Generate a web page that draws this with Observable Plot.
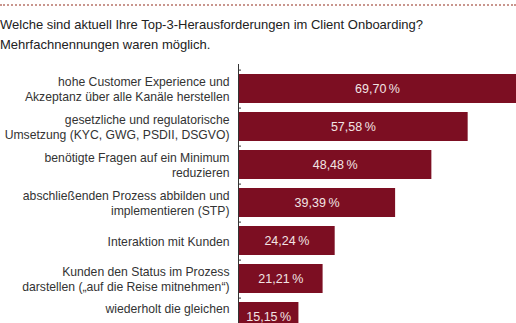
<!DOCTYPE html>
<html>
<head>
<meta charset="utf-8">
<script src="https://cdn.jsdelivr.net/npm/d3@7"></script>
<script src="https://cdn.jsdelivr.net/npm/@observablehq/plot@0.6"></script>
<style>
  html, body { margin: 0; padding: 0; background: #fff; overflow: hidden; }
  body { width: 516px; height: 323px; position: relative; font-family: "Liberation Sans", Arial, sans-serif; }
  #rule { position: absolute; left: 0; top: 4px; width: 516px; border-top: 2px dotted #c9968e; }
  #title { position: absolute; left: 0; top: 15px; font-size: 13px; line-height: 20px; color: #222; white-space: nowrap; }
  #chart { position: absolute; left: 0; top: 56px; }
</style>
</head>
<body>
<div id="rule"></div>
<div id="title">Welche sind aktuell Ihre Top-3-Herausforderungen im Client Onboarding?<br>Mehrfachnennungen waren möglich.</div>
<div id="chart"></div>
<script>
const categories = [
  "hohe Customer Experience und\nAkzeptanz über alle Kanäle herstellen",
  "gesetzliche und regulatorische\nUmsetzung (KYC, GWG, PSDII, DSGVO)",
  "benötigte Fragen auf ein Minimum\nreduzieren",
  "abschließenden Prozess abbilden und\nimplementieren (STP)",
  "Interaktion mit Kunden",
  "Kunden den Status im Prozess\ndarstellen („auf die Reise mitnehmen“)",
  "wiederholt die gleichen"
];
const values = [69.70, 57.58, 48.48, 39.39, 24.24, 21.21, 15.15];

const data = categories.map((c, i) => ({label: c, value: values[i]}));
const fmt = v => v.toFixed(2).replace(".", ",") + "\u2009%";
const step = 38.8;
const lastLabel = categories[categories.length - 1];

const chart = Plot.plot({
  width: 516,
  height: 287,
  marginLeft: 238,
  marginRight: 0,
  marginTop: 6,
  marginBottom: 0,
  style: {fontFamily: "Liberation Sans, Arial, sans-serif", fontSize: "12.2px", background: "transparent", overflow: "visible"},
  x: {domain: [0, 69.7], axis: null},
  y: {domain: categories, padding: 0.24, axis: null},
  marks: [
    Plot.barX(data, {x: "value", y: "label", fill: "#7c0e22"}),
    Plot.ruleX([0], {stroke: "#333", strokeWidth: 1, insetTop: 2}),
    Plot.ruleY(categories, {y: d => d, x1: 0, x2: 0.75, dy: -step / 2 + 0.5, stroke: "#333", strokeWidth: 1}),
    Plot.text(data.filter(d => d.label !== lastLabel), {x: 0, y: "label", text: "label", textAnchor: "end", dx: -9, lineHeight: 1.23, fill: "#333", fontSize: 12.2}),
    Plot.text(data.filter(d => d.label === lastLabel), {x: 0, y: "label", text: "label", textAnchor: "end", dx: -9, dy: -7.5, fill: "#333", fontSize: 12.2}),
    Plot.text(data, {x: d => d.value / 2, y: "label", text: d => fmt(d.value), fill: "#f2e4e4", fontSize: 12.5})
  ]
});
document.getElementById("chart").appendChild(chart);
</script>
</body>
</html>
